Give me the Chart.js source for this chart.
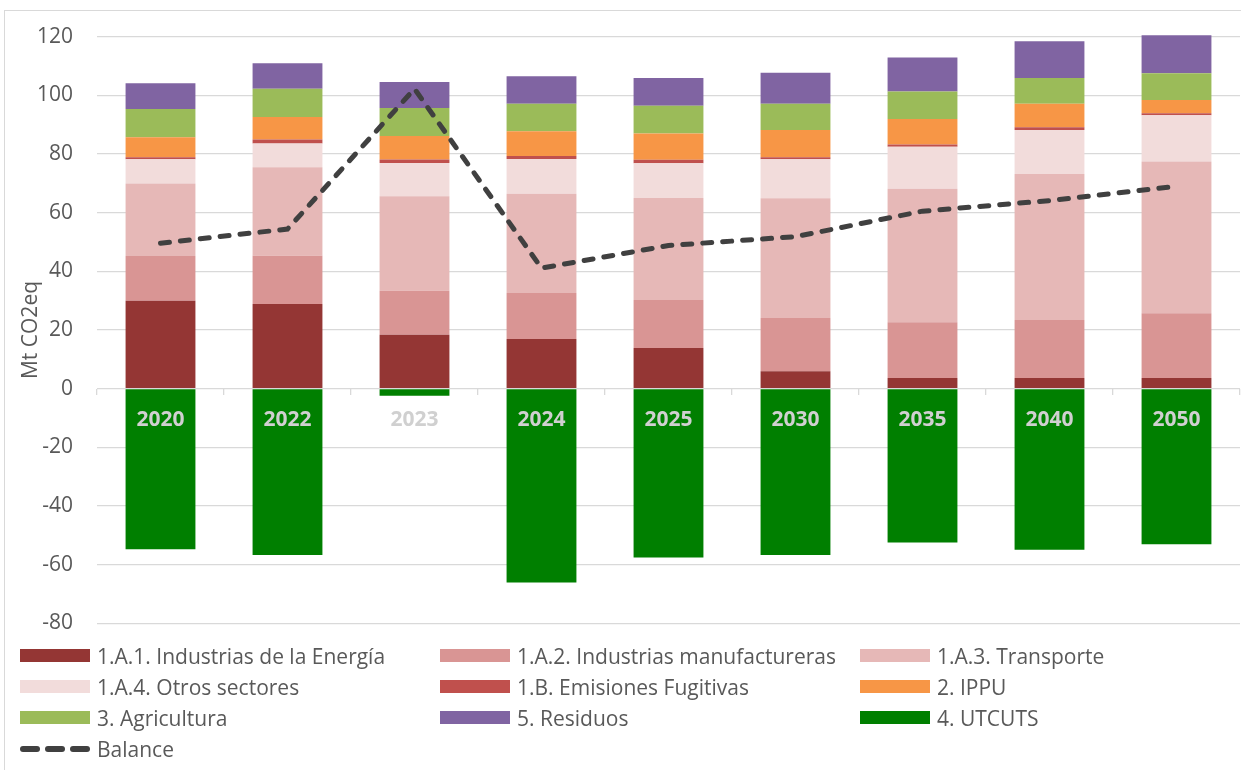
<!DOCTYPE html>
<html>
<head>
    <meta charset="utf-8">
    <title>Emisiones por sector</title>
    <script src="https://cdn.jsdelivr.net/npm/chart.js"></script>
    <style>
        body { margin: 0; background: #fff; font-family: "Open Sans", sans-serif; }
        .page { position: relative; width: 1245px; height: 770px; overflow: hidden; }
        .frame { position: absolute; left: 4px; top: 10px; width: 1236px; height: 800px;
                 border-left: 1.5px solid #d9d9d9; border-top: 1.5px solid #d9d9d9; }
        .chart-box { position: absolute; left: 0; top: 0; width: 1245px; height: 660px; }
        #legend { position: absolute; left: 20px; top: 640px; display: grid;
                  grid-template-columns: 420px 420px 360px; }
        .item { display: flex; align-items: center; height: 31px; color: #595959; font-size: 21px; white-space: nowrap; }
        .swatch { width: 70px; height: 13px; margin-right: 7px; }
        .dash { display: flex; gap: 5px; width: 70px; margin-right: 7px; }
        .dash span { width: 20px; height: 6px; border-radius: 3px; background: #404040; }
    </style>
</head>
<body>
<div class="page">
    <div class="frame"></div>
    <div class="chart-box"><canvas id="chart"></canvas></div>
    <div id="legend"></div>
</div>

<script>
    // categories
    const years = ['2020', '2022', '2023', '2024', '2025', '2030', '2035', '2040', '2050'];

    // Mt CO2eq por sector
    const energia        = [30.0, 28.9, 18.4, 16.9, 13.9,  5.9,  3.6,  3.6,  3.6];
    const manufactureras = [15.2, 16.4, 15.0, 15.7, 16.3, 18.2, 19.0, 19.8, 22.1];
    const transporte     = [24.7, 30.2, 32.2, 33.8, 34.8, 40.8, 45.5, 49.8, 51.7];
    const otrosSectores  = [ 8.3,  8.1, 11.3, 11.9, 11.8, 13.3, 14.4, 15.0, 15.8];
    const fugitivas      = [ 0.7,  1.3,  1.2,  1.0,  1.2,  0.7,  0.7,  0.9,  0.7];
    const ippu           = [ 6.8,  7.7,  8.0,  8.4,  9.0,  9.3,  8.7,  8.0,  4.5];
    const agricultura    = [ 9.6,  9.6,  9.6,  9.4,  9.4,  8.9,  9.4,  8.8,  9.1];
    const residuos       = [ 8.8,  8.7,  8.8,  9.4,  9.5, 10.6, 11.6, 12.5, 13.0];
    const utcuts         = [-54.7, -56.7, -2.4, -66.1, -57.5, -56.7, -52.4, -54.9, -53.0];
    const balance        = [49.6, 54.4, 102.2, 41.1, 48.8, 51.8, 60.5, 64.1, 69.0];

    // y axis ticks
    const yMin = -80, yMax = 120, yStep = 20;

    const grey = '#595959';
    const gridColor = '#d9d9d9';

    function bar(label, data, color) {
        return { type: 'bar', label, data, backgroundColor: color, borderWidth: 0,
                 barPercentage: 0.55, categoryPercentage: 1, stack: 'sectores' };
    }

    const datasets = [
        bar('1.A.1. Industrias de la Energía', energia, '#943634'),
        bar('1.A.2. Industrias manufactureras', manufactureras, '#d99594'),
        bar('1.A.3. Transporte', transporte, '#e6b8b7'),
        bar('1.A.4. Otros sectores', otrosSectores, '#f2dcdb'),
        bar('1.B. Emisiones Fugitivas', fugitivas, '#c0504d'),
        bar('2. IPPU', ippu, '#f79646'),
        bar('3. Agricultura', agricultura, '#9bbb59'),
        bar('5. Residuos', residuos, '#8064a2'),
        bar('4. UTCUTS', utcuts, '#007f00'),
        {
            type: 'line', label: 'Balance', data: balance, stack: 'balance', order: -1,
            borderColor: '#404040', borderWidth: 5, borderDash: [9, 11], borderCapStyle: 'round',
            pointRadius: 0, tension: 0, fill: false
        }
    ];
    datasets[7].clip = false;

    const chart = new Chart(document.getElementById('chart'), {
        data: { labels: years, datasets },
        options: {
            responsive: true,
            maintainAspectRatio: false,
            animation: false,
            layout: { padding: { left: 12, right: 5, top: 36, bottom: 1 } },
            plugins: { legend: { display: false }, tooltip: { enabled: false } },
            scales: {
                x: {
                    stacked: true,
                    position: { y: 0 },
                    border: { display: false },
                    grid: { drawOnChartArea: false, drawTicks: true, tickLength: 6,
                            color: gridColor, lineWidth: 1.3, offset: true },
                    ticks: { z: 1, color: '#d0d0d0', padding: 13,
                             font: { family: 'Open Sans', size: 21, weight: 'bold' } }
                },
                y: {
                    stacked: true,
                    min: yMin, max: yMax,
                    border: { display: false },
                    grid: { color: gridColor, lineWidth: 1.3, drawTicks: false },
                    ticks: { stepSize: yStep, padding: 24, color: grey,
                             font: { family: 'Open Sans', size: 21 } },
                    title: { display: true, text: 'Mt CO2eq', color: grey, padding: { top: 6, bottom: 0 },
                             font: { family: 'Open Sans', size: 21 } },
                    afterFit: (scale) => { scale.width = 85; }
                }
            }
        }
    });

    // legend in three columns, like the original
    const legend = document.getElementById('legend');
    chart.data.datasets.forEach(ds => {
        const item = document.createElement('div');
        item.className = 'item';
        if (ds.type === 'line') {
            item.innerHTML = '<div class="dash"><span></span><span></span><span></span></div>';
        } else {
            item.innerHTML = `<div class="swatch" style="background:${ds.backgroundColor}"></div>`;
        }
        item.appendChild(document.createTextNode(ds.label));
        legend.appendChild(item);
    });
</script>
</body>
</html>
